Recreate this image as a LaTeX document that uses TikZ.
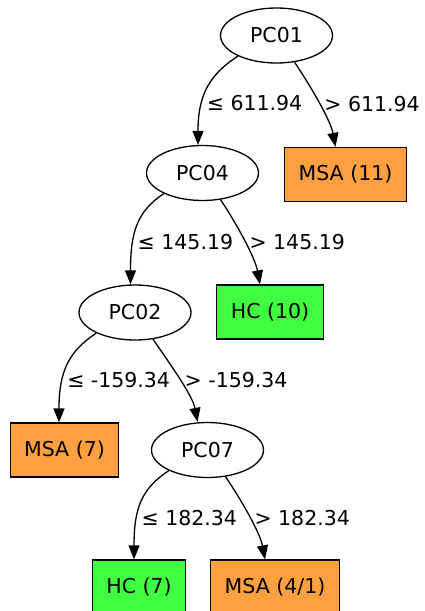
\documentclass[tikz,border=0pt]{standalone}
\usepackage{fontspec}
\setmainfont{DejaVu Sans}
\usetikzlibrary{arrows.meta,shapes.geometric}
\definecolor{msaorange}{RGB}{255,160,64}
\definecolor{hcgreen}{RGB}{64,255,64}

\begin{document}
\begin{tikzpicture}[>={Triangle[length=14pt,width=11pt]}, x=1pt, y=1pt,
  font=\fontsize{20.5}{24}\selectfont,
  split/.style={draw, line width=1.3pt, ellipse, minimum width=112pt, minimum height=55pt, inner sep=0pt},
  leaf/.style={draw, line width=1.3pt, rectangle, minimum height=54pt, inner xsep=14pt},
  cut/.style={anchor=west, inner sep=4pt},
  edge/.style={->, line width=1.3pt}]
  \useasboundingbox (0,0) rectangle (424,-611);
  % split nodes
  \node[split] (pc01) at (276.5,-35.5) {PC01};
  \node[split] (pc04) at (202.5,-173) {PC04};
  \node[split] (pc02) at (135,-312.5) {PC02};
  \node[split] (pc07) at (207.5,-450) {PC07};
  % leaves
  \node[leaf, fill=msaorange] (msa11) at (345.5,-174.5) {MSA (11)};
  \node[leaf, fill=hcgreen] (hc10) at (270,-312) {HC (10)};
  \node[leaf, fill=msaorange] (msa7) at (64.5,-450) {MSA (7)};
  \node[leaf, fill=hcgreen] (hc7) at (139,-587) {HC (7)};
  \node[leaf, fill=msaorange] (msa41) at (275,-587) {MSA (4/1)};
  % edges
  \draw[edge] (pc01.208) .. controls +(-27,-18) and +(0,52) .. ([xshift=-4.5pt]pc04.north)
    node[cut, pos=0.67] {≤ 611.94};
  \draw[edge] (pc01.304) .. controls +(15,-22) and +(-5,27) .. ([xshift=-10pt]msa11.north)
    node[cut, pos=0.52] {> 611.94};
  \draw[edge] (pc04.208) .. controls +(-27,-18) and +(0,52) .. ([xshift=-4.5pt]pc02.north)
    node[cut, pos=0.67] {≤ 145.19};
  \draw[edge] (pc04.304) .. controls +(15,-22) and +(-5,27) .. ([xshift=-10pt]hc10.north)
    node[cut, pos=0.52] {> 145.19};
  \draw[edge] (pc02.208) .. controls +(-27,-18) and +(0,52) .. ([xshift=-5.5pt]msa7.north)
    node[cut, pos=0.67] {≤ -159.34};
  \draw[edge] (pc02.304) .. controls +(15,-22) and +(-5,27) .. ([xshift=-10pt]pc07.north)
    node[cut, pos=0.52] {> -159.34};
  \draw[edge] (pc07.208) .. controls +(-27,-18) and +(0,52) .. ([xshift=-5pt]hc7.north)
    node[cut, pos=0.67] {≤ 182.34};
  \draw[edge] (pc07.304) .. controls +(15,-22) and +(-5,27) .. ([xshift=-10pt]msa41.north)
    node[cut, pos=0.52] {> 182.34};
\end{tikzpicture}
\end{document}
